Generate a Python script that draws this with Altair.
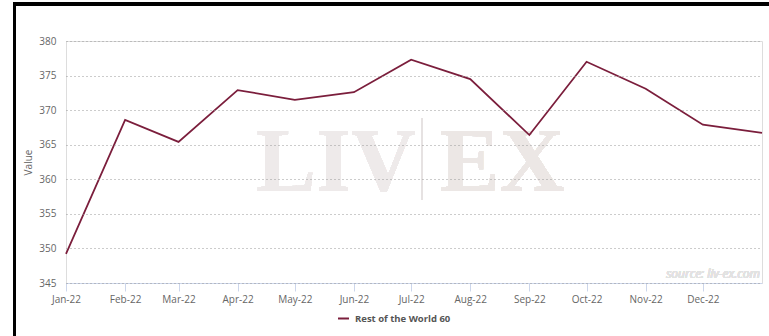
import altair as alt
import pandas as pd

dates = ["2022-01-01", "2022-02-01", "2022-03-01", "2022-04-01", "2022-05-01", "2022-06-01",
         "2022-07-01", "2022-08-01", "2022-09-01", "2022-10-01", "2022-11-01", "2022-12-01",
         "2023-01-01"]
values = [349.2, 368.6, 365.4, 372.9, 371.5, 372.6, 377.3, 374.5, 366.4, 377.0, 373.1, 367.9, 366.7]
series_name = "Rest of the World 60"
y_ticks = [345, 350, 355, 360, 365, 370, 375, 380]

df = pd.DataFrame({"date": dates, "value": values, "series": [series_name] * len(dates)})

tick_dates = [alt.DateTime(year=2022, month=m, date=1, utc=True) for m in range(1, 13)]

LINE = "#7b1e3c"
W, H = 696, 242

base = alt.Chart(df)

# watermark
wm_liv = base.mark_text(text="LIV", font="Liberation Serif", fontWeight="bold", fontSize=90,
                        color="#eeeaea", align="center", baseline="alphabetic").encode(
    x=alt.value(270), y=alt.value(150))
wm_ex = base.mark_text(text="EX", font="Liberation Serif", fontWeight="bold", fontSize=90,
                       color="#ece7e5", align="center", baseline="alphabetic").encode(
    x=alt.value(436), y=alt.value(150))
wm_bar = base.mark_rule(color="#e6e2e2", strokeWidth=2).encode(
    x=alt.value(356), y=alt.value(77), y2=alt.value(159))
source = base.mark_text(text="source: liv-ex.com", font="Open Sans", fontStyle="italic",
                        fontSize=12, color="#e2e2e2", align="right", baseline="alphabetic").encode(
    x=alt.value(694), y=alt.value(237))

line = base.mark_line(strokeWidth=1.8).encode(
    x=alt.X("date:T", title=None,
            scale=alt.Scale(type="utc", domain=[alt.DateTime(year=2022, month=1, date=1, utc=True),
                                                alt.DateTime(year=2023, month=1, date=1, utc=True)]),
            axis=alt.Axis(values=tick_dates, format="%b-%y", labelColor="#666666", labelFontSize=10,
                          labelFont="Open Sans", tickColor="#ccd6eb", tickSize=8, domainColor="#ccd6eb",
                          domainWidth=1, grid=False, labelPadding=3, labelFlush=False)),
    y=alt.Y("value:Q", title="Value",
            scale=alt.Scale(domain=[345, 380], nice=False, zero=False),
            axis=alt.Axis(values=y_ticks, labelColor="#666666", labelFontSize=10, labelFont="Open Sans",
                          titleColor="#666666", titleFontSize=10, titleFont="Open Sans",
                          titleFontWeight="normal", titlePadding=5,
                          domain=False, ticks=False, labelPadding=10, gridColor="#999999",
                          gridDash=[1, 3], gridWidth=1, zindex=1)),
    color=alt.Color("series:N", scale=alt.Scale(range=[LINE]),
                    legend=alt.Legend(title=None, orient="none", legendX=271, legendY=271,
                                      symbolType="stroke", symbolStrokeWidth=2, symbolSize=120,
                                      labelFontWeight="bold", labelFontSize=9.5, labelFont="Open Sans",
                                      labelColor="#555555", labelOffset=5)),
)

# frame
frame_top = base.mark_rule(color="#000000", strokeWidth=3).encode(
    x=alt.value(-53), x2=alt.value(703), y=alt.value(-37))
frame_left = base.mark_rule(color="#000000", strokeWidth=3).encode(
    x=alt.value(-51.5), y=alt.value(-38), y2=alt.value(295))

chart = alt.layer(wm_liv, wm_ex, wm_bar, source, line, frame_top, frame_left).properties(
    width=W, height=H,
    autosize=alt.AutoSizeParams(type="none"),
    padding={"left": 66, "top": 41, "right": 7, "bottom": 53},
).configure_view(stroke=None).configure(background="white")

chart.save("out.html", embed_options={"renderer": "svg", "actions": False})
